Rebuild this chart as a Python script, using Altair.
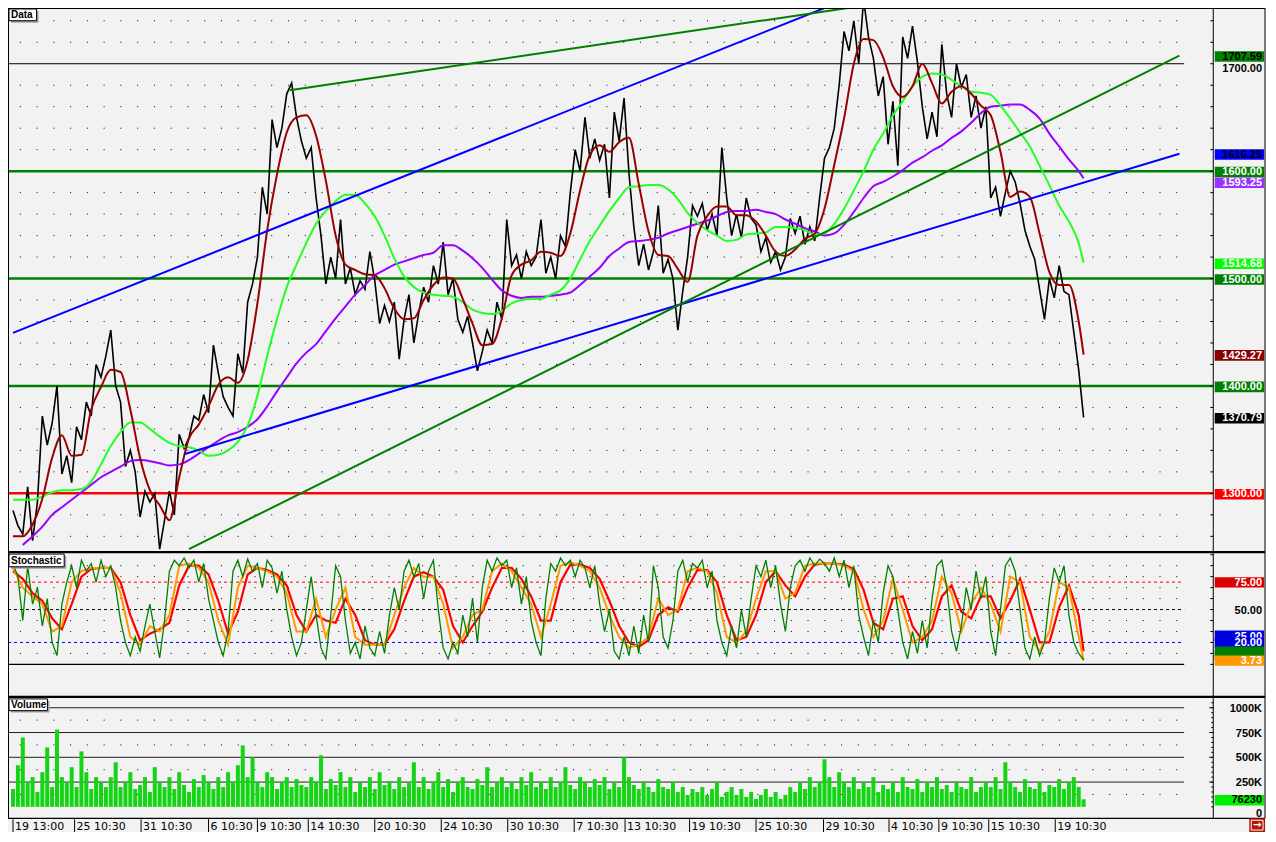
import altair as alt
import pandas as pd

W, H = 1258, 824
SX, SY = W / 1276, H / 842


def px(v):
    return round(v * SX, 2)


def py(v):
    return round(v * SY, 2)


FONT = "Liberation Sans"
BG = "#f2f2f2"

# ---------------- data (bar number = time index) ----------------
price_step = 5
ma_step = 10
last_bar = 1095

price = [
    1284, 1270, 1262, 1306, 1256, 1292, 1372, 1345, 1365, 1400,
    1318, 1335, 1310, 1362, 1350, 1385, 1372, 1420, 1408, 1428,
    1452, 1400, 1385, 1325, 1340, 1320, 1278, 1302, 1292, 1300,
    1248, 1275, 1302, 1280, 1355, 1342, 1352, 1372, 1368, 1392,
    1375, 1438, 1412, 1390, 1380, 1372, 1430, 1412, 1478, 1495,
    1520, 1585, 1560, 1648, 1622, 1640, 1672, 1682, 1650, 1628,
    1612, 1622, 1575, 1540, 1495, 1520, 1500, 1555, 1495, 1510,
    1485, 1498, 1490, 1525, 1498, 1458, 1475, 1460, 1478, 1425,
    1462, 1485, 1440, 1468, 1492, 1478, 1512, 1495, 1534, 1485,
    1500, 1462, 1450, 1465, 1440, 1414, 1432, 1452, 1440, 1478,
    1462, 1555, 1512, 1522, 1500, 1525, 1512, 1520, 1555, 1505,
    1520, 1500, 1540, 1530, 1580, 1620, 1600, 1650, 1612, 1630,
    1610, 1625, 1575, 1655, 1628, 1668, 1598, 1548, 1512, 1532,
    1508, 1525, 1568, 1505, 1518, 1500, 1452, 1488, 1520, 1568,
    1558, 1570, 1545, 1560, 1540, 1622, 1575, 1540, 1560, 1538,
    1575, 1556, 1550, 1525, 1538, 1515, 1525, 1508, 1520, 1556,
    1542, 1558, 1532, 1548, 1535, 1575, 1612, 1622, 1640, 1680,
    1730, 1712, 1740, 1700, 1760, 1725, 1705, 1670, 1688, 1625,
    1665, 1605, 1725, 1705, 1735, 1702, 1660, 1630, 1655, 1632,
    1718, 1672, 1650, 1700, 1678, 1690, 1650, 1670, 1640, 1660,
    1575, 1585, 1558, 1580, 1600, 1590, 1570, 1545, 1530, 1518,
    1490, 1462, 1500, 1482, 1512, 1488, 1485, 1450, 1415, 1370.79,
]

ma_red = [
    1260, 1260, 1271, 1295, 1333, 1354, 1335, 1336, 1378, 1399,
    1415, 1413, 1378, 1333, 1303, 1289, 1275, 1315, 1351, 1364,
    1381, 1401, 1408, 1403, 1424, 1477, 1545, 1597, 1636, 1650,
    1652, 1633, 1591, 1540, 1513, 1508, 1504, 1503, 1491, 1472,
    1462, 1463, 1480, 1494, 1501, 1500, 1481, 1458, 1438, 1439,
    1463, 1503, 1513, 1517, 1525, 1524, 1521, 1542, 1582, 1615,
    1624, 1618, 1627, 1631, 1588, 1544, 1522, 1521, 1509, 1497,
    1540, 1558, 1567, 1567, 1559, 1559, 1553, 1540, 1525, 1521,
    1527, 1537, 1542, 1565, 1606, 1649, 1700, 1723, 1722, 1706,
    1679, 1669, 1679, 1700, 1682, 1663, 1674, 1679, 1672, 1661,
    1652, 1618, 1576, 1581, 1576, 1542, 1506, 1494, 1494, 1460,
    1429.27,
]

ma_green = [
    1294, 1294, 1294, 1297, 1301, 1303, 1303, 1304, 1311, 1327,
    1344, 1357, 1366, 1366, 1360, 1353, 1347, 1344, 1343, 1340,
    1335, 1336, 1340, 1348, 1363, 1391, 1428, 1462, 1492, 1513,
    1533, 1551, 1563, 1572, 1578, 1578, 1570, 1558, 1540, 1519,
    1502, 1492, 1487, 1485, 1484, 1483, 1478, 1471, 1468, 1467,
    1470, 1477, 1480, 1481, 1481, 1485, 1489, 1500, 1518, 1535,
    1549, 1563, 1575, 1585, 1586, 1587, 1587, 1583, 1574, 1561,
    1552, 1545, 1540, 1535, 1536, 1541, 1542, 1543, 1548, 1548,
    1547, 1545, 1541, 1542, 1551, 1565, 1582, 1600, 1620, 1635,
    1652, 1665, 1679, 1688, 1691, 1690, 1685, 1679, 1674, 1673,
    1671, 1661, 1649, 1636, 1623, 1605, 1587, 1568, 1553, 1533,
    1514.68,
]

ma_purple_start = 10
ma_purple = [
    1252, 1260, 1269, 1280, 1287, 1294, 1301, 1308, 1315,
    1320, 1325, 1330, 1331, 1330, 1328, 1326, 1327, 1331, 1337,
    1343, 1349, 1354, 1357, 1362, 1369, 1381, 1395, 1408, 1421,
    1431, 1439, 1451, 1463, 1474, 1485, 1494, 1503, 1508, 1513,
    1516, 1519, 1522, 1524, 1531, 1531, 1526, 1519, 1510, 1499,
    1489, 1484, 1482, 1483, 1483, 1484, 1485, 1487, 1494, 1502,
    1510, 1521, 1528, 1534, 1535, 1536, 1538, 1542, 1545, 1548,
    1551, 1554, 1558, 1562, 1563, 1563, 1564, 1562, 1560, 1555,
    1551, 1547, 1544, 1540, 1542, 1550, 1562, 1575, 1586, 1590,
    1595, 1601, 1608, 1613, 1619, 1624, 1631, 1637, 1645, 1654,
    1660, 1661, 1662, 1662, 1657, 1649, 1635, 1623, 1611, 1600,
    1593.25,
]

stoch_k = [
    92, 80, 40, 90, 55, 70, 35, 60, 20, 8,
    55, 75, 90, 70, 95, 85, 92, 75, 95, 80,
    90, 70, 40, 20, 8, 25, 12, 35, 55, 30,
    6, 40, 85, 95, 90, 97, 88, 95, 75, 92,
    60, 40, 20, 8, 30, 85, 95, 80, 96, 85,
    92, 70, 95, 88, 65, 85, 50, 25, 8, 20,
    50, 80, 45, 15, 5, 45, 90, 80, 40, 10,
    20, 5, 35, 15, 8, 30, 10, 45, 70, 50,
    85, 95, 80, 92, 60, 85, 95, 50, 15, 5,
    20, 10, 45, 25, 60, 20, 70, 95, 85, 97,
    90, 95, 70, 88, 55, 80, 40, 20, 8, 60,
    92, 85, 97, 90, 95, 80, 95, 88, 70, 90,
    55, 30, 50, 12, 5, 25, 8, 35, 10, 45,
    20, 90, 70, 25, 15, 40, 85, 95, 75, 92,
    88, 95, 70, 85, 40, 20, 8, 35, 15, 50,
    25, 60, 90, 80, 95, 70, 90, 55, 30, 70,
    90, 95, 85, 97, 90, 96, 92, 85, 97, 80,
    95, 70, 90, 45, 25, 8, 40, 20, 65, 90,
    80, 50, 20, 5, 30, 10, 40, 15, 60, 90,
    95, 70, 30, 12, 35, 70, 50, 85, 60, 80,
    30, 8, 50, 90, 97, 85, 50, 15, 5, 25,
    8, 20, 60, 88, 75, 90, 45, 20, 10, 4,
]

stoch_orange = [
    88, 70, 62, 55, 30, 35, 75, 85, 88, 88,
    88, 65, 25, 18, 35, 30, 45, 90, 92, 88,
    75, 40, 18, 70, 90, 88, 85, 80, 65, 30,
    30, 60, 25, 50, 70, 25, 18, 18, 18, 45,
    70, 88, 80, 80, 55, 15, 25, 45, 50, 85,
    92, 85, 70, 55, 25, 55, 90, 93, 90, 85,
    70, 45, 25, 15, 18, 25, 60, 45, 50, 85,
    88, 85, 65, 25, 20, 30, 60, 85, 85, 60,
    65, 90, 92, 92, 92, 90, 85, 50, 25, 40,
    78, 50, 20, 25, 40, 80, 65, 30, 55, 70,
    55, 30, 80, 75, 25, 12, 30, 75, 70, 25,
    3.73,
]

stoch_red = [
    85, 78, 65, 58, 42, 32, 55, 80, 87, 88,
    88, 75, 45, 22, 28, 32, 38, 72, 90, 90,
    82, 58, 28, 48, 82, 88, 86, 82, 72, 45,
    30, 45, 40, 38, 60, 45, 22, 18, 18, 32,
    58, 80, 84, 80, 68, 35, 20, 35, 48, 70,
    88, 88, 78, 62, 40, 40, 75, 91, 91, 88,
    78, 58, 35, 20, 16, 22, 45, 52, 48, 70,
    86, 86, 75, 45, 22, 25, 45, 75, 85, 72,
    62, 80, 91, 92, 92, 91, 87, 68, 38, 32,
    60, 62, 35, 22, 32, 62, 72, 48, 42, 62,
    62, 42, 58, 78, 50, 20, 20, 52, 72, 45,
    12,
]

volume_k = [
    180, 420, 700, 250, 300, 150, 350, 600, 200, 780, 300, 250, 400, 200, 560, 350, 180, 300, 250, 200,
    300, 450, 200, 250, 350, 180, 220, 300, 150, 400, 250, 200, 300, 180, 350, 220, 150, 280, 200, 320,
    250, 180, 300, 200, 350, 250, 420, 620, 300, 500, 250, 200, 350, 300, 180, 250, 300, 200, 280, 220,
    200, 300, 250, 520, 180, 280, 220, 350, 200, 300, 150, 250, 200, 300, 180, 350, 220, 260, 180, 300,
    200, 250, 450, 200, 300, 180, 250, 350, 200, 280, 150, 250, 300, 200, 180, 280, 220, 400, 200, 250,
    300, 200, 250, 180, 300, 220, 350, 200, 250, 180, 300, 200, 250, 400, 220, 180, 300, 250, 200, 280,
    220, 300, 180, 250, 200, 500, 300, 220, 180, 250, 200, 150, 280, 200, 180, 250, 150, 200, 120, 180,
    150, 200, 120, 180, 250, 100, 150, 200, 120, 180, 100, 150, 80, 120, 180, 100, 150, 80, 120, 200,
    150, 250, 180, 300, 200, 250, 480, 300, 200, 350, 250, 200, 300, 180, 250, 200, 300, 150, 220, 180,
    250, 150, 300, 200, 180, 280, 150, 250, 200, 300, 180, 220, 150, 250, 200, 180, 300, 150, 200, 250,
    200, 300, 180, 450, 250, 200, 150, 280, 200, 180, 250, 150, 220, 200, 280, 180, 250, 300, 200, 76.23,
]

date_bars = [0, 63, 131, 200, 250, 302, 370, 438, 506, 574, 626, 692, 760, 829, 896, 947, 998, 1066]
date_labels = ["19 13:00", "25 10:30", "31 10:30", "6 10:30", "9 10:30", "14 10:30",
               "20 10:30", "24 10:30", "30 10:30", "7 10:30", "13 10:30", "19 10:30",
               "25 10:30", "29 10:30", "4 10:30", "9 10:30", "15 10:30", "19 10:30"]

# trend lines: (name, bar, price) anchor points
blue_trends = [("up", 0, 1449.4), ("up", 830, 1751.9),
               ("lo", 175, 1336.4), ("lo", 1193, 1616.25)]
green_trends = [("up", 283, 1675.4), ("up", 854, 1751.9),
                ("lo", 180, 1248.1), ("lo", 1193, 1707.59)]

green_levels = [1400, 1500, 1600]
red_levels = [1300]
black_levels = [1700]

main_dots = [1260, 1280, 1320, 1340, 1360, 1380, 1420, 1440, 1460, 1480,
             1520, 1540, 1560, 1580, 1620, 1640, 1660, 1680, 1720, 1740]
main_ticks = list(range(1260, 1741, 20))
stoch_dots = [10, 30, 40, 60, 70, 80, 90]
stoch_ticks = list(range(0, 101, 10))
vol_lines = [250, 500, 750, 1000]
vol_dots = [125, 375, 625, 875]
vol_minor = list(range(0, 1051, 50))

# last-value labels: (value, text, box colour, text colour); None text = box only
main_labels = [
    (1707.59, "1707.59", "#008000", "#000000"),
    (1616.25, "1616.25", "#0000ff", "#000000"),
    (1600.00, "1600.00", "#008000", "#ffffff"),
    (1593.25, "1593.25", "#9933ff", "#ffffff"),
    (1514.68, "1514.68", "#00ff00", "#ffffff"),
    (1500.00, "1500.00", "#008000", "#ffffff"),
    (1429.27, "1429.27", "#8b0000", "#ffffff"),
    (1400.00, "1400.00", "#008000", "#ffffff"),
    (1370.79, "1370.79", "#000000", "#ffffff"),
    (1300.00, "1300.00", "#ff0000", "#ffffff"),
]
stoch_labels = [
    (75.0, "75.00", "#dd0000", "#ffffff"),
    (25.0, "25.00", "#0000dd", "#ffffff"),
    (20.0, "20.00", "#0000dd", "#ffffff"),
    (11.9, None, "#008000", "#ffffff"),
    (8.3, None, "#008000", "#ffffff"),
    (3.73, "3.73", "#ff9900", "#ffffff"),
]
main_plain = [(1700.0, "1700.00")]
stoch_plain = [(50.0, "50.00")]
vol_plain = [(1000, "1000K"), (750, "750K"), (500, "500K"), (250, "250K"), (0, "0")]
vol_labels = [(76.23, "76230", "#00ee00", "#000000")]

# layout-only nudges (pixels) for crowded right-hand labels
LABEL_NUDGE = {"1593.25": 3.5, "1700.00": 4, "0": 6, "25.00": -1.5}

# ---------------- scales ----------------
XS = alt.Scale(domain=[0, 1222], range=[0, px(1222)])
MAIN = alt.Scale(domain=[1245.3, 1751.9], range=[py(556), py(0)])
STO = alt.Scale(domain=[-28.8, 101.5], range=[py(703), py(557)])
VOL = alt.Scale(domain=[-115.5, 1099], range=[py(828), py(705)])


def X(f="bar"):
    return alt.X(f"{f}:Q", scale=XS, axis=None)


def Yq(f, s):
    return alt.Y(f"{f}:Q", scale=s, axis=None)


def series(values, step, start=0):
    bars = [start + i * step for i in range(len(values) - 1)] + [last_bar]
    return pd.DataFrame({"bar": bars, "v": values})


one = pd.DataFrame({"a": [0]})


def hrules(values, scale, x2, color, width=1.0, dash=None, offset=None, x1=0):
    kw = dict(color=color, strokeWidth=width)
    if dash is not None:
        kw["strokeDash"] = dash
    if offset is not None:
        kw["strokeDashOffset"] = offset
    return alt.Chart(pd.DataFrame({"v": values})).mark_rule(**kw).encode(
        y=Yq("v", scale), x=alt.value(x1), x2=alt.value(x2))


def line(df, scale, color, width, interp=None):
    kw = dict(color=color, strokeWidth=width, clip=True)
    if interp:
        kw["interpolate"] = interp
    return alt.Chart(df).mark_line(**kw).encode(x=X(), y=Yq("v", scale))


def box_labels(rows, scale, top=4.5, bot=6.3):
    out = []
    for v, txt, fill, ink in rows:
        nudge = py(LABEL_NUDGE.get(txt, 0))
        d = pd.DataFrame({"v": [v], "t": [txt or ""]})
        out.append(alt.Chart(d).mark_rect(color=fill, yOffset=nudge - py(top), y2Offset=nudge + py(bot)).encode(
            y=Yq("v", scale), y2=alt.Y2("v:Q"), x=alt.value(px(1224)), x2=alt.value(px(1274))))
        if txt:
            out.append(alt.Chart(d).mark_text(align="right", baseline="middle", dy=1 + nudge, font=FONT,
                                              fontWeight="bold", fontSize=11, color=ink).encode(
                y=Yq("v", scale), x=alt.value(px(1272)), text="t:N"))
    return out


def plain_labels(rows, scale):
    out = []
    for v, txt in rows:
        d = pd.DataFrame({"v": [v], "t": [txt]})
        out.append(alt.Chart(d).mark_text(align="right", baseline="middle",
                                          dy=1 + py(LABEL_NUDGE.get(txt, 0)), font=FONT,
                                          fontWeight="bold", fontSize=11, color="black").encode(
            y=Yq("v", scale), x=alt.value(px(1272)), text="t:N"))
    return out


DOT = [1, round(17 * SX - 1, 2)]
DOT_OFF = round(17 * SX - 12 * SX, 2)

# ---------------- main panel ----------------
blue_df = pd.DataFrame(blue_trends, columns=["name", "bar", "v"])
green_df = pd.DataFrame(green_trends, columns=["name", "bar", "v"])

main_layers = [
    hrules(main_dots, MAIN, px(1193), "black", 1, DOT, DOT_OFF),
    hrules(black_levels, MAIN, px(1193), "black", 1),
    hrules(green_levels, MAIN, px(1222), "#008000", 2.5),
    hrules(red_levels, MAIN, px(1222), "#ff0000", 2.5),
    line(series(price, price_step), MAIN, "black", 1.6),
    line(series(ma_purple, ma_step, ma_purple_start), MAIN, "#9900ff", 2, "monotone"),
    line(series(ma_green, ma_step), MAIN, "#22ff22", 2, "monotone"),
    line(series(ma_red, ma_step), MAIN, "#990000", 2, "monotone"),
    alt.Chart(blue_df).mark_line(color="#0000ff", strokeWidth=2, clip=True).encode(
        x=X(), y=Yq("v", MAIN), detail="name:N"),
    alt.Chart(green_df).mark_line(color="#008000", strokeWidth=2, clip=True).encode(
        x=X(), y=Yq("v", MAIN), detail="name:N"),
    alt.Chart(pd.DataFrame({"v": main_ticks})).mark_rule(color="black").encode(
        y=Yq("v", MAIN), x=alt.value(px(1219.5)), x2=alt.value(px(1222.5))),
] + plain_labels(main_plain, MAIN) + box_labels(main_labels, MAIN)
main_layer = alt.layer(*main_layers)

# ---------------- stochastic panel ----------------
sto_layers = [
    hrules(stoch_dots, STO, px(1193), "black", 1, DOT, DOT_OFF),
    hrules([75], STO, px(1193), "#ff0000", 1, [3, 3]),
    hrules([50], STO, px(1193), "black", 1, [3, 3]),
    hrules([20], STO, px(1193), "#0000ff", 1, [3, 3]),
    hrules([0], STO, px(1193), "black", 1.2),
    line(series(stoch_red, ma_step), STO, "#ff0000", 2.2),
    line(series(stoch_orange, ma_step), STO, "#ff9900", 2),
    line(series(stoch_k, price_step), STO, "#008000", 1.3),
    alt.Chart(pd.DataFrame({"v": stoch_ticks})).mark_rule(color="black").encode(
        y=Yq("v", STO), x=alt.value(px(1219.5)), x2=alt.value(px(1222.5))),
] + plain_labels(stoch_plain, STO) + box_labels(stoch_labels, STO, 5, 5.5)
sto_layer = alt.layer(*sto_layers)

# ---------------- volume panel ----------------
vol_df = series(volume_k, price_step)
vol_layers = [
    hrules(vol_dots, VOL, px(1193), "black", 1, DOT, DOT_OFF),
    hrules(vol_lines, VOL, px(1193), "#222222", 1),
    alt.Chart(vol_df).mark_bar(color="#14d414", width=4).encode(
        x=X(), y=Yq("v", VOL), y2=alt.datum(0)),
    alt.Chart(pd.DataFrame({"v": vol_minor})).mark_rule(color="black").encode(
        y=Yq("v", VOL), x=alt.value(px(1220.5)), x2=alt.value(px(1222.5))),
    alt.Chart(pd.DataFrame({"v": vol_lines})).mark_rule(color="black").encode(
        y=Yq("v", VOL), x=alt.value(px(1218.5)), x2=alt.value(px(1222.5))),
] + plain_labels(vol_plain, VOL) + box_labels(vol_labels, VOL)
vol_layer = alt.layer(*vol_layers)


# ---------------- frame, titles, time axis ----------------
def frule(x1, y1, x2, y2, color="black", width=1.0):
    return alt.Chart(one).mark_rule(color=color, strokeWidth=width).encode(
        x=alt.value(x1), y=alt.value(y1), x2=alt.value(x2), y2=alt.value(y2))


def title_box(txt, x1, y1, x2, y2):
    return [
        alt.Chart(one).mark_rect(color="#a0a0a0").encode(
            x=alt.value(px(x1 + 2)), x2=alt.value(px(x2 + 2)), y=alt.value(py(y1 + 2)), y2=alt.value(py(y2 + 2))),
        alt.Chart(one).mark_rect(fill="white", stroke="black", strokeWidth=1).encode(
            x=alt.value(px(x1)), x2=alt.value(px(x2)), y=alt.value(py(y1)), y2=alt.value(py(y2))),
        alt.Chart(one).mark_text(text=txt, align="left", baseline="middle", font=FONT,
                                 fontWeight="bold", fontSize=10, color="black").encode(
            x=alt.value(px(x1 + 2)), y=alt.value(py((y1 + y2) / 2 + 0.5))),
    ]


dates = pd.DataFrame({"bar": date_bars, "t": date_labels})
frame_layers = [
    frule(0.5, 0, 0.5, py(828)),
    frule(0, 0.5, px(1275), 0.5),
    frule(px(1222.5), 0, px(1222.5), py(828)),
    frule(px(1275), 0, px(1275), py(828)),
    frule(0, py(556), px(1275), py(556), width=2.2),
    frule(0, py(704), px(1275), py(704), width=2.2),
    frule(0, py(828), px(1275), py(828), width=1.2),
    alt.Chart(dates).mark_rule(color="black").encode(
        x=X(), y=alt.value(py(829)), y2=alt.value(py(842))),
    alt.Chart(dates).mark_text(align="left", baseline="alphabetic", dx=2, font="DejaVu Sans",
                               fontSize=11, color="black").encode(
        x=X(), y=alt.value(py(839.5)), text="t:N"),
    alt.Chart(one).mark_rect(color="#b01808").encode(
        x=alt.value(px(1259)), x2=alt.value(px(1275)), y=alt.value(py(828)), y2=alt.value(py(842))),
    alt.Chart(one).mark_rect(fill="#b01808", stroke="white", strokeWidth=1).encode(
        x=alt.value(px(1261)), x2=alt.value(px(1273)), y=alt.value(py(830)), y2=alt.value(py(840))),
    alt.Chart(one).mark_text(text="→", align="center", baseline="middle", font="DejaVu Sans",
                             fontSize=10, fontWeight="bold", color="white").encode(
        x=alt.value(px(1267)), y=alt.value(py(835))),
]
frame_layers += title_box("Data", 1, 1, 29, 13)
frame_layers += title_box("Stochastic", 1, 558, 57, 571)
frame_layers += title_box("Volume", 1, 706, 40, 718)
frame_layer = alt.layer(*frame_layers)

chart = alt.layer(main_layer, sto_layer, vol_layer, frame_layer).resolve_scale(
    y="independent"
).properties(
    width=W, height=H, padding=0,
    autosize=alt.AutoSizeParams(type="none"),
    background=BG,
).configure_view(stroke=None)

chart.save("out.html", embed_options={"renderer": "svg", "actions": False})
